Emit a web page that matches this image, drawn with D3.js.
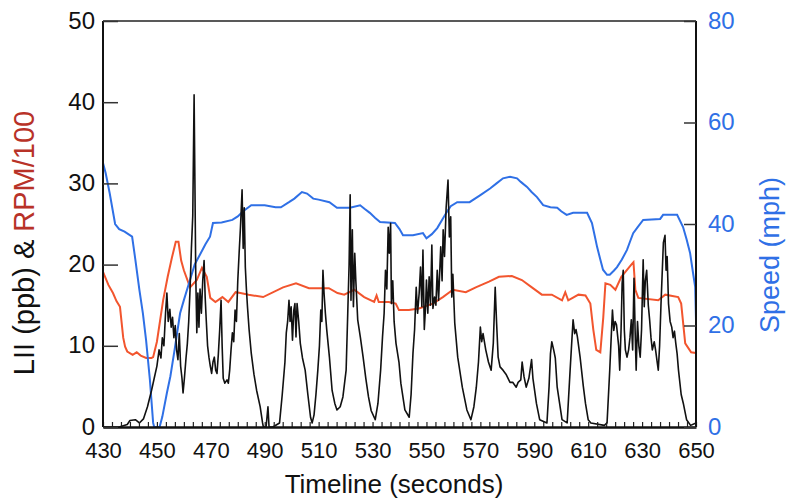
<!DOCTYPE html>
<html>
<head>
<meta charset="utf-8">
<script src="https://cdn.jsdelivr.net/npm/d3@7"></script>
<style>
  body { margin: 0; background: #fff; }
  text { font-family: "Liberation Sans", Arial, sans-serif; }
</style>
</head>
<body>
<div id="chart"></div>
<script>
const svgWidth = 788;
const svgHeight = 502;

const margin = { top: 21, right: 92, bottom: 75, left: 103 };
const width = svgWidth - margin.left - margin.right;
const height = svgHeight - margin.top - margin.bottom;

// tick values
const xTicks = [430, 450, 470, 490, 510, 530, 550, 570, 590, 610, 630, 650];
const leftTicks = [0, 10, 20, 30, 40, 50];
const rightTicks = [0, 20, 40, 60, 80];

// LII (ppb): [seconds, value]
const liiData = [
  [430,0],[436,0],[439,0.3],[440,0.8],[442,0.9],[443.5,0.5],[445,1.0],[446.5,2.5],[448,4.5],[449,6],
  [450,7.5],[450.8,9.5],[451.5,8.5],[452,11],[452.6,10],[453.2,14],[453.7,16.5],[454.2,13],[454.8,14.5],
  [455.3,12.3],[455.8,13.5],[456.3,11],[456.8,12.5],[457.3,9.5],[457.8,8.3],[458.3,11.5],[458.8,7.5],
  [459.3,6],[459.7,4.2],[460.2,6],[460.8,8.5],[461.3,10.3],[461.8,13],[462.3,17],[462.8,22],[463.3,26],
  [463.8,40.9],[464.1,30],[464.4,19],[464.8,11.6],[465.2,16.5],[465.6,12.3],[466,17],[466.5,14],[467,18],
  [467.5,20.5],[467.9,16],[468.3,13.2],[468.8,10],[469.3,8.6],[469.8,7.5],[470.3,6.6],[470.8,8],[471.3,8.6],
  [471.8,7],[472.3,6.6],[472.8,9],[473.3,12],[473.8,15.6],[474.2,10],[474.6,6],[475.2,5.4],[476,5.8],
  [476.5,5.4],[477,7],[477.5,9.5],[478,11.6],[478.5,10.5],[479,14.4],[479.5,13],[480,18],[480.5,21.4],
  [481,24.6],[481.6,29.2],[482,22],[482.4,27],[482.8,19.7],[483.2,17],[483.6,14.8],[484.2,12],[485,9.1],
  [486,6.5],[487,4.5],[488.3,2.5],[489.2,0.5],[489.5,0],[490.5,0],[491.2,2.5],[491.6,0],[493,0],
  [495.5,0.5],[496.5,4],[497.5,8],[498,11.6],[498.5,13],[499,15.6],[499.4,13],[499.8,14.8],[500.3,10.7],
  [500.8,14.4],[501.2,15.2],[501.6,11.1],[502,15.2],[502.6,13],[503.2,10.3],[504,8.5],[505,7],[506,4],
  [507,1.2],[507.6,0.5],[508.3,1.5],[509,4],[509.7,7],[510.3,10],[510.8,14.4],[511.2,13],[511.6,19.3],
  [512,16.5],[512.5,14],[513,12],[514,8.6],[515,4.5],[516,2.9],[516.8,2.1],[518,2.5],[519,3.7],[520.2,7],
  [520.8,14],[521.3,20],[521.7,28.6],[522,15.6],[522.5,24.3],[522.9,14.8],[523.4,21.4],[523.8,18],
  [524.5,13.2],[525.5,11],[526.5,8.6],[527.5,6],[528.5,3.7],[529.5,2],[531,0.9],[532,2.9],[533,7],
  [533.7,11.1],[534.3,14],[534.8,19.3],[535.3,17],[535.8,24.6],[536.2,21.4],[536.7,25.1],[537,15.2],
  [537.5,18],[538,13],[538.7,10.3],[539.8,8],[540.5,5.4],[542,2.1],[543.6,1.2],[544.3,4],[545,9.1],
  [545.6,12],[546.2,17.2],[546.7,14],[547.3,16.5],[547.8,19.7],[548.3,14.8],[548.7,21.8],[549.2,12],
  [549.7,15],[550,18.1],[550.5,14],[551,18.5],[551.5,15],[552,22.4],[552.4,14.6],[553,16],[553.5,15],
  [554,19.3],[554.5,15.6],[555.3,22.2],[555.8,18],[556.2,24.3],[556.7,21],[557.3,27],[558,30.4],
  [558.5,23.4],[559,25.9],[559.4,16],[559.8,18.8],[560.5,12.8],[561.6,8.6],[563.3,4.9],[565,2.1],
  [566.5,0.9],[567.6,2.5],[568.5,4.9],[569.3,8],[570,12.3],[570.5,10.5],[571,11.5],[572,9.5],[573,8],
  [574,7],[574.8,10.3],[575.5,17.2],[576,13],[576.6,8.6],[577.3,7.4],[578.4,7],[579.5,6.5],[581,5.5],
  [582,5.5],[583.3,4.9],[584,5.5],[585,5.8],[585.5,8],[586.2,6.2],[587,4.9],[588,6],[589,8.3],[589.5,6],
  [590.8,2.9],[592,0.9],[594.7,0.5],[595.5,5],[596,9],[596.5,10.5],[597.2,9.5],[597.8,8.5],[598.5,4.9],
  [600.3,0.9],[602.2,0.5],[603.3,7],[604,11],[604.4,13.2],[605,11.5],[605.5,12],[606,11.1],[607,8.6],
  [608.2,5],[609,2.9],[610,0.9],[611,0.5],[616,0.2],[617,0.5],[618,7],[619,14.4],[619.5,11.9],[620,13],
  [620.5,12.6],[621.3,10],[621.7,7],[622.2,12],[622.6,17.7],[623,19.3],[623.4,12],[623.8,9.5],[624.4,8.6],
  [625,9.5],[625.5,11],[626,13.2],[626.5,9.5],[627,18.3],[627.4,12],[627.8,7],[628.3,13],[628.8,10],
  [629.3,8.6],[629.8,12],[630.4,20.6],[630.8,14.8],[631.2,18],[631.7,19.3],[632.3,15],[632.8,13.2],
  [633.3,11],[633.8,9.5],[634.5,10.5],[635,9.5],[635.6,8],[636,7],[636.5,10],[637,15],[637.5,19.3],
  [637.9,22.7],[638.5,23.6],[638.9,19.3],[639.3,21],[639.8,15.2],[640.4,13],[641,12.3],[641.5,11],
  [642,11.8],[642.5,10.3],[643,9],[643.5,7],[644.5,4],[645.3,2.9],[646.5,0.9],[648,0.2],[650,0.5]
];

// RPM/100
const rpmData = [
  [430,19.1],[432,17.5],[433.7,16.5],[435,15.5],[436.3,14.8],[437.5,11],[438.2,9.9],[439,9.3],[441,8.9],
  [442.5,9.2],[444,8.8],[446,8.5],[448,8.5],[448.6,8.6],[450,10.5],[452.3,15.6],[454,18.5],[455.6,20.9],
  [457,22.8],[458,22.8],[459,20.5],[460,19.3],[462.3,17.2],[464.8,18.1],[466.7,19.6],[468.5,18.5],
  [469.8,15.9],[471.7,15.4],[474.3,16],[476.5,15.4],[479.2,16.6],[481,16.5],[484,16.3],[489.4,16],
  [496.8,17.2],[501.6,17.7],[506.4,17.1],[513.8,17.1],[517,16.5],[519.5,16.3],[523.2,16.9],[526.9,16],
  [530.6,15.4],[531.5,16.2],[532.3,15.4],[536,15.4],[538.6,15.2],[539.8,14.4],[543.5,14.4],[547.2,14.6],
  [552.4,15.2],[556.1,16],[559.8,16.9],[564.6,16.6],[568.3,17.2],[573.2,17.9],[576.9,18.5],[581.7,18.6],
  [585.4,18.1],[589.1,17.2],[592.8,16.3],[596.5,16.3],[600.3,15.6],[601.5,16.6],[602.6,15.6],[606.4,16.3],
  [609,16.2],[610.8,15.2],[611.9,12],[613,9.5],[614.5,9.2],[615.6,13.5],[616.4,17.7],[618.2,17.5],
  [620.1,16.9],[622.3,18.5],[626,20],[626.8,20.3],[627.5,16.9],[628.6,15.9],[636,15.6],[638.6,16.3],
  [643.4,16],[644.5,15.2],[646,10.3],[648.2,9.2],[650,9.1]
];

// Speed (mph)
const speedData = [
  [430,52],[431,50],[432.5,46],[434.5,40],[436,39],[438,38.5],[440.8,37.5],[442,33],[443.5,27],
  [444.8,22.4],[446,17],[447.4,9.3],[448.6,0.8],[449,0],[451,0],[452,2],[453.7,6.7],[455,10],[456.5,15],
  [458.6,22.4],[460,25],[462.3,29],[464,32],[466,34],[468,36],[469.7,37.5],[470.8,40.2],[474,40.3],
  [478,40.8],[480,41.5],[482,42.5],[485,43.7],[490,43.7],[494,43.3],[496,43.3],[499,44.3],[501,45],
  [503.8,46.3],[505.7,46],[508,45],[510,44.8],[514,44.3],[516.8,43.2],[521.6,43.2],[525.4,43.7],[527,43],
  [529,42.2],[531,41.2],[532.8,40.4],[538.3,40.2],[540,39],[541.3,37.8],[545,37.8],[548.7,38.2],[550,37.2],
  [552,38],[554,39.2],[556,41],[557.6,42.4],[559,43.5],[561.4,44.3],[566,44.3],[570,45.7],[573.6,47],
  [576,48],[578.4,49],[581,49.3],[583.6,49],[585,48.3],[587.3,47.3],[589,46.3],[591,45.3],[593.3,43.7],
  [596,43.3],[598.5,43.2],[600,42.5],[602,41.8],[604.4,42.2],[609.6,42.2],[611.4,40.2],[612.5,37.5],
  [613.3,35.5],[614.5,33],[615.5,31],[617,30],[618,30],[619.5,30.8],[620.7,31.5],[622.5,33],[624.4,34.9],
  [625.5,36.5],[626.7,38.2],[628.5,39.5],[630.4,40.8],[636.7,41],[637.8,41.8],[643,41.8],[645.2,39.4],
  [646.5,37],[647.8,34.3],[649,30],[649.7,27.6],[650,21]
];

const blue = "#2f70e6";
const red = "#f2552e";
const darkRed = "#b83228";

const svg = d3.select("#chart")
  .append("svg")
  .attr("width", svgWidth)
  .attr("height", svgHeight);

const chartGroup = svg.append("g")
  .attr("transform", `translate(${margin.left}, ${margin.top})`);

// scales
const x = d3.scaleLinear().domain([430, 650]).range([0, width]);
const yLeft = d3.scaleLinear().domain([0, 50]).range([height, 0]);
const yRight = d3.scaleLinear().domain([0, 80]).range([height, 0]);

// lines
const lineLeft = d3.line().x(d => x(d[0])).y(d => yLeft(d[1]));
const lineRight = d3.line().x(d => x(d[0])).y(d => yRight(d[1]));

chartGroup.append("path")
  .datum(rpmData)
  .attr("fill", "none")
  .attr("stroke", red)
  .attr("stroke-width", 2)
  .attr("d", lineLeft);

chartGroup.append("path")
  .datum(speedData)
  .attr("fill", "none")
  .attr("stroke", blue)
  .attr("stroke-width", 2)
  .attr("d", lineRight);

chartGroup.append("path")
  .datum(liiData)
  .attr("fill", "none")
  .attr("stroke", "#111")
  .attr("stroke-width", 1.6)
  .attr("stroke-linejoin", "round")
  .attr("d", lineLeft);

// frame: top line
chartGroup.append("line")
  .attr("x1", 0).attr("x2", width)
  .attr("y1", 0).attr("y2", 0)
  .attr("stroke", "#222").attr("stroke-width", 1.5);

// bottom axis, minor ticks then labelled ticks
const minorTicks = d3.range(0, 67).map(i => 430 + i * 10 / 3);
chartGroup.append("g")
  .attr("transform", `translate(0, ${height})`)
  .call(d3.axisTop(x).tickValues(minorTicks).tickSize(5).tickFormat(""))
  .call(g => g.select(".domain").remove())
  .selectAll("line").attr("stroke", "#222").attr("stroke-width", 1.2);

const xAxis = chartGroup.append("g")
  .attr("transform", `translate(0, ${height})`)
  .call(d3.axisBottom(x).tickValues(xTicks).tickSize(0).tickPadding(15));
xAxis.select(".domain").attr("stroke", "#111").attr("stroke-width", 2.5);
xAxis.selectAll("text")
  .attr("font-size", "22px")
  .attr("fill", "#111");

// left axis
const leftAxis = chartGroup.append("g")
  .call(d3.axisRight(yLeft).tickValues(leftTicks).tickSize(15).tickFormat(""));
leftAxis.select(".domain").attr("stroke", "#111").attr("stroke-width", 2).attr("d", `M0,0V${height}`);
leftAxis.selectAll("line").attr("stroke", "#333").attr("stroke-width", 1.5);

chartGroup.append("g").selectAll("text")
  .data(leftTicks)
  .enter()
  .append("text")
  .attr("x", -8)
  .attr("y", d => yLeft(d))
  .attr("dy", "0.32em")
  .attr("text-anchor", "end")
  .attr("font-size", "24px")
  .attr("fill", "#111")
  .text(d => d);

// right axis
const rightAxis = chartGroup.append("g")
  .attr("transform", `translate(${width}, 0)`)
  .call(d3.axisLeft(yRight).tickValues(rightTicks).tickSize(12).tickFormat(""));
rightAxis.select(".domain").attr("stroke", "#111").attr("stroke-width", 2).attr("d", `M0,0V${height}`);
rightAxis.selectAll("line").attr("stroke", "#333").attr("stroke-width", 1.5);

chartGroup.append("g").selectAll("text")
  .data(rightTicks)
  .enter()
  .append("text")
  .attr("x", width + 12)
  .attr("y", d => yRight(d))
  .attr("dy", "0.32em")
  .attr("text-anchor", "start")
  .attr("font-size", "24px")
  .attr("fill", blue)
  .text(d => d);

// axis titles
svg.append("text")
  .attr("x", 394)
  .attr("y", 493)
  .attr("text-anchor", "middle")
  .attr("font-size", "26px")
  .attr("fill", "#111")
  .text("Timeline (seconds)");

const leftLabel = svg.append("text")
  .attr("transform", "translate(34, 243) rotate(-90)")
  .attr("text-anchor", "middle")
  .attr("font-size", "29px");
leftLabel.append("tspan").attr("fill", "#111").text("LII (ppb) & ");
leftLabel.append("tspan").attr("fill", darkRed).text("RPM/100");

svg.append("text")
  .attr("transform", "translate(779, 255) rotate(-90)")
  .attr("text-anchor", "middle")
  .attr("font-size", "27px")
  .attr("fill", blue)
  .text("Speed (mph)");
</script>
</body>
</html>
